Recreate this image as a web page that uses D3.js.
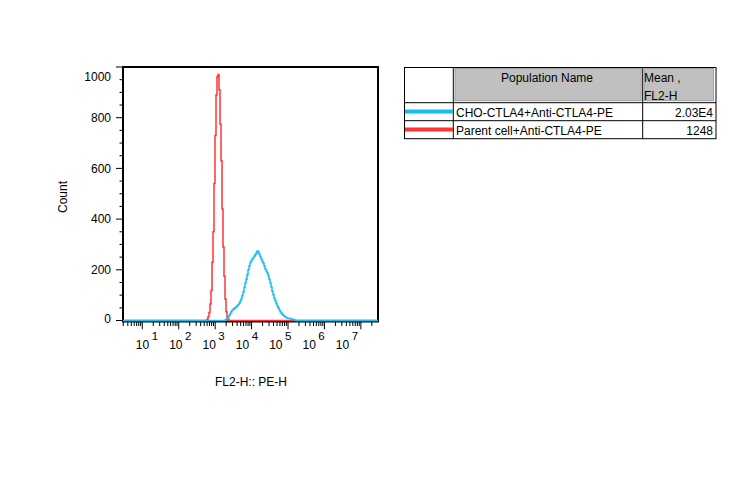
<!DOCTYPE html>
<html><head><meta charset="utf-8">
<script src="https://cdn.jsdelivr.net/npm/d3@7"></script>
<style>
body{margin:0;background:#fff}
svg{display:block}
text{font-family:"Liberation Sans",Arial,sans-serif;font-size:12px;fill:#000}
</style>
</head><body><svg id="c" width="746" height="503"></svg>
<script>
// ---- data ----
const decadeLabels = [1, 2, 3, 4, 5, 6, 7];
const yTickValues = [0, 200, 400, 600, 800, 1000];
const seriesNames = ["CHO-CTLA4+Anti-CTLA4-PE", "Parent cell+Anti-CTLA4-PE"];
const seriesMeans = ["2.03E4", "1248"];
const seriesColors = ["#14bef2", "#ff3535"];
const headerCols = ["Population Name", "Mean ,", "FL2-H"];
// histogram channels (256 channels across the axis)
const channelCount = 256;
const blueStart = 102;
const blueCounts = [2,4,8,14,21,28,35,41,44,47,50,54,58,62,68,76,86,98,112,130,148,163,180,200,216,227,236,243,248,253,259,266,274,270,262,252,243,234,227,215,203,195,188,178,163,148,132,115,102,88,78,67,58,50,42,35,30,25,21,17,14,12,10,9,8,7,6,5,4,2,1];
const redStart = 84;
const redCounts = [5,15,32,65,118,230,350,540,730,890,962,970,910,775,630,440,290,175,85,35,12,4];

// ---- layout ----
const svg = d3.select("#c");
const L = 123, R = 378, T = 67, B = 320.5;
const decMin = 0.47, decMax = 7.47;
const x = d3.scaleLog().domain([Math.pow(10, decMin), Math.pow(10, decMax)]).range([L, R]);
const y = d3.scaleLinear().domain([0, 1000]).range([B, T]);
const chW = (decMax - decMin) / 255;
const chVal = c => Math.pow(10, decMin + c * chW);

function fullSeries(start, counts) {
  const pts = [];
  for (let c = 0; c < channelCount - 1; c++) {
    const i = c - start;
    pts.push([chVal(c), (i >= 0 && i < counts.length) ? counts[i] : 0]);
  }
  pts.push([chVal(255), 0]);
  return pts;
}

// frame
svg.append("rect").attr("x", L).attr("y", T).attr("width", R - L).attr("height", 321.5 - T)
  .attr("fill", "none").attr("stroke", "#000").attr("stroke-width", 2);

// y ticks
const yMinor = d3.range(0, 1001, 50);
svg.append("g").selectAll("line").data(yMinor).join("line")
  .attr("x1", d => d % 200 === 0 ? L - 7 : L - 3.5).attr("x2", L)
  .attr("y1", d => y(d)).attr("y2", d => y(d))
  .attr("stroke", "#000").attr("stroke-width", 1);
svg.append("g").selectAll("text").data(yTickValues).join("text")
  .attr("x", 111).attr("y", d => y(d) + 4.3 + (d === 1000 ? 10 : 0) + (d === 0 ? -1.5 : 0))
  .attr("text-anchor", "end").text(d => d);

// x ticks
const xMinor = [];
for (let k = 0; k <= 7; k++) for (let m = 1; m <= 9; m++) {
  const v = m * Math.pow(10, k);
  if (v >= Math.pow(10, decMin) && v <= Math.pow(10, decMax)) xMinor.push({v, major: m === 1});
}
svg.append("g").selectAll("line").data(xMinor).join("line")
  .attr("x1", d => x(d.v)).attr("x2", d => x(d.v))
  .attr("y1", 322).attr("y2", d => d.major ? 329.3 : 326)
  .attr("stroke", "#000").attr("stroke-width", 1);
const labelX = d3.scaleLinear().domain([1, 7]).range([142.5, 342.5]);
const xl = svg.append("g").selectAll("text").data(decadeLabels).join("text")
  .attr("x", d => labelX(d) - 6.7).attr("y", 348.5);
xl.append("tspan").text("10");
xl.append("tspan").attr("dx", 2.5).attr("dy", -9).style("font-size", "11.5px").text(d => d);

// axis titles
svg.append("text").attr("transform", "translate(67,197) rotate(-90)").attr("text-anchor", "middle").text("Count");
svg.append("text").attr("x", 251).attr("y", 386).attr("text-anchor", "middle").text("FL2-H:: PE-H");

// histograms
const line = d3.line().x(d => x(d[0])).y(d => y(d[1])).curve(d3.curveStepAfter);
svg.append("path").datum(fullSeries(redStart, redCounts)).attr("d", line)
  .attr("fill", "none").attr("stroke", seriesColors[1]).attr("stroke-width", 1.5);
svg.append("path").datum(fullSeries(blueStart, blueCounts)).attr("d", line)
  .attr("fill", "none").attr("stroke", seriesColors[0]).attr("stroke-width", 1.5);

// ---- table ----
const tb = svg.append("g");
const tL = 404.5, tR = 716, tT = 67.5, hB = 102.7, rowH = 18, c1 = 453.3, c2 = 642.7;
tb.append("rect").attr("x", 455).attr("y", 68.5).attr("width", c2 - 1.5 - 455).attr("height", hB - 2 - 68.5)
  .attr("fill", "#c0c0c0").attr("stroke", "#a0a0a0");
tb.append("rect").attr("x", 644.2).attr("y", 68.5).attr("width", 713.5 - 644.2).attr("height", hB - 2 - 68.5)
  .attr("fill", "#c0c0c0").attr("stroke", "#a0a0a0");
tb.append("rect").attr("x", tL).attr("y", tT).attr("width", tR - tL).attr("height", hB + rowH * 2 - tT)
  .attr("fill", "none").attr("stroke", "#000");
[c1, c2].forEach(cx => tb.append("line").attr("x1", cx).attr("x2", cx).attr("y1", tT).attr("y2", hB + rowH * 2).attr("stroke", "#000"));
[hB, hB + rowH].forEach(yy => tb.append("line").attr("x1", tL).attr("x2", tR).attr("y1", yy).attr("y2", yy).attr("stroke", "#000"));
tb.append("text").attr("x", 547).attr("y", 81.5).attr("text-anchor", "middle").text(headerCols[0]);
tb.append("text").attr("x", 644).attr("y", 81.5).text(headerCols[1]);
tb.append("text").attr("x", 644).attr("y", 99.5).text(headerCols[2]);
const rows = tb.selectAll("g.row").data(seriesNames).join("g").attr("class", "row");
rows.append("line").attr("x1", 405).attr("x2", 453).attr("y1", (d, i) => hB + 8.7 + i * rowH).attr("y2", (d, i) => hB + 8.7 + i * rowH)
  .attr("stroke", (d, i) => seriesColors[i]).attr("stroke-width", 4);
rows.append("text").attr("x", 456).attr("y", (d, i) => hB + 14 + i * rowH).text(d => d);
rows.append("text").attr("x", 713).attr("y", (d, i) => hB + 14 + i * rowH).attr("text-anchor", "end").text((d, i) => seriesMeans[i]);
</script>
</body></html>
